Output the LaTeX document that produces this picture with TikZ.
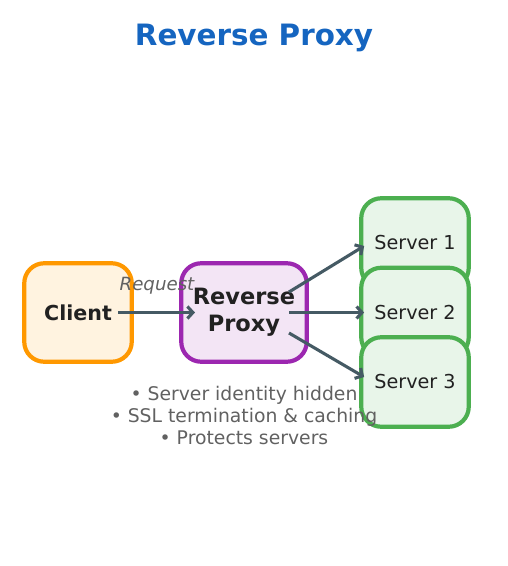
\documentclass[tikz,border=0pt]{standalone}
\usepackage{fontspec}
\setmainfont{DejaVu Sans}
\usetikzlibrary{arrows.meta,calc}
\definecolor{titleblue}{HTML}{1565C0}
\definecolor{cfill}{HTML}{FFF3E0}
\definecolor{cdraw}{HTML}{FF9800}
\definecolor{pfill}{HTML}{F3E5F5}
\definecolor{pdraw}{HTML}{9C27B0}
\definecolor{sfill}{HTML}{E8F5E9}
\definecolor{sdraw}{HTML}{4CAF50}
\definecolor{arrcol}{HTML}{455A64}
\definecolor{darktext}{HTML}{212121}
\definecolor{graytext}{HTML}{616161}
\tikzset{
  box/.style={draw, line width=4.2pt, rounded corners=20pt, inner sep=0pt, align=center, text=darktext},
  clientbox/.style={box, fill=cfill, draw=cdraw, minimum width=107.5pt, minimum height=98.5pt, font=\bfseries\fontsize{20.6}{24}\selectfont},
  proxybox/.style={box, fill=pfill, draw=pdraw, minimum width=125.5pt, minimum height=98.5pt, font=\bfseries\fontsize{22.5}{27}\selectfont},
  serverbox/.style={box, fill=sfill, draw=sdraw, minimum width=107.5pt, minimum height=89.5pt, font=\fontsize{19.2}{22}\selectfont},
  arr/.style={draw=arrcol, line width=3.1pt, -{Straight Barb[length=5.5pt,width=12pt,line width=3.1pt]}},
}
\begin{document}
\begin{tikzpicture}[x=1pt,y=-1pt]
\useasboundingbox (0,0) rectangle (507,566);
\node[font=\bfseries\fontsize{29.4}{32}\selectfont, text=titleblue] (title) at (254,38) {Reverse Proxy};
\node[clientbox] (client) at (78,312.5) {Client};
\node[proxybox] (proxy) at (244,312.5) {Reverse\\Proxy};
\node[serverbox] (s1) at (415,243) {Server 1};
\node[serverbox] (s2) at (415,312.5) {Server 2};
\node[serverbox] (s3) at (415,382) {Server 3};
\draw[arr] ($(client.center)+(40,0)$) -- ($(proxy.center)+(-49,0)$);
\node[font=\itshape\fontsize{18.2}{20}\selectfont, text=graytext] (req) at (157,286) {Request};
\draw[arr] ($(proxy.center)+(45,-20.5)$) -- ($(s1.west)+(5,3)$);
\draw[arr] ($(proxy.center)+(45,0)$) -- ($(s2.west)+(5,0)$);
\draw[arr] ($(proxy.center)+(45,20.5)$) -- ($(s3.west)+(5,-5)$);
\node[font=\fontsize{18.8}{22}\selectfont, text=graytext, align=center] (notes) at (244,415) {• Server identity hidden\\• SSL termination \& caching\\• Protects servers};
\end{tikzpicture}
\end{document}
